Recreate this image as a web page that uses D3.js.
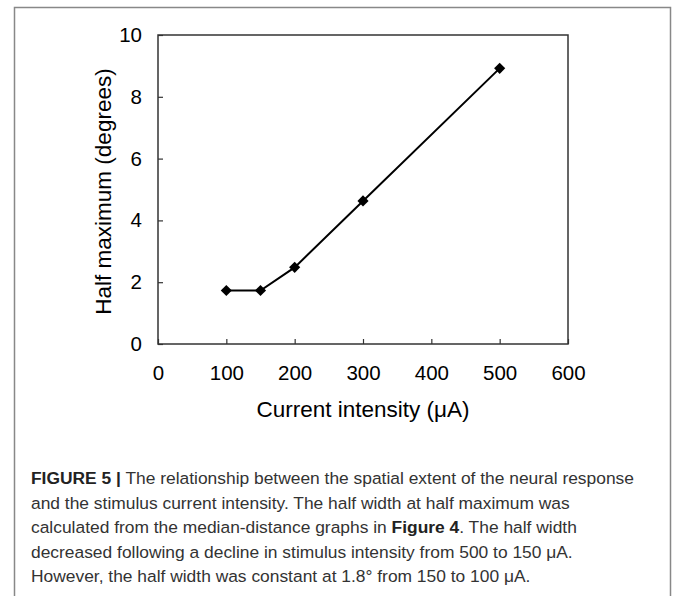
<!DOCTYPE html>
<html>
<head>
<meta charset="utf-8">
<script src="https://cdn.jsdelivr.net/npm/d3@7"></script>
<style>
  html, body { margin: 0; padding: 0; background: #fff; }
  svg text { font-family: "Liberation Sans", Arial, sans-serif; }
  .axis path { display: none; }
  .axis line { stroke: #333; stroke-width: 1.2; }
  .axis text { font-size: 20.5px; fill: #000; }
  .caption { font-size: 17.4px; fill: #333; }
</style>
</head>
<body>
<div id="chart"></div>
<script>
// data
var currents = [100, 150, 200, 300, 500];
var halfMax = [1.73, 1.73, 2.48, 4.63, 8.92];
var xTicks = [0, 100, 200, 300, 400, 500, 600];
var yTicks = [0, 2, 4, 6, 8, 10];
var captionLines = [
  [["FIGURE 5 |", true], [" The relationship between the spatial extent of the neural response", false]],
  [["and the stimulus current intensity. The half width at half maximum was", false]],
  [["calculated from the median-distance graphs in ", false], ["Figure 4", true], [". The half width", false]],
  [["decreased following a decline in stimulus intensity from 500 to 150 \u03bcA.", false]],
  [["However, the half width was constant at 1.8\u00b0 from 150 to 100 \u03bcA.", false]]
];

var W = 673, H = 596;
var margin = {top: 35, right: 105, bottom: 252, left: 158},
    width = W - margin.left - margin.right,
    height = H - margin.top - margin.bottom;

var svg = d3.select("#chart").append("svg")
    .attr("width", W)
    .attr("height", H);

// outer figure frame
svg.append("rect")
    .attr("x", 14.5).attr("y", 7.5)
    .attr("width", 656).attr("height", 600)
    .attr("fill", "none")
    .attr("stroke", "#888")
    .attr("stroke-width", 1.5);

var x = d3.scaleLinear().domain([0, 600]).range([0, width]),
    y = d3.scaleLinear().domain([0, 10]).range([height, 0]);

var g = svg.append("g")
    .attr("transform", "translate(" + margin.left + "," + margin.top + ")");

g.append("g")
    .attr("class", "axis axis--x")
    .attr("transform", "translate(0," + height + ")")
    .call(d3.axisBottom(x).tickValues(xTicks).tickSize(-5).tickPadding(21));

g.append("g")
    .attr("class", "axis axis--y")
    .call(d3.axisLeft(y).tickValues(yTicks).tickSize(-5).tickPadding(16));

// plot frame
g.append("rect")
    .attr("width", width)
    .attr("height", height)
    .attr("fill", "none")
    .attr("stroke", "#333")
    .attr("stroke-width", 1.5);

var points = currents.map(function(c, i) { return {x: c, y: halfMax[i]}; });

g.append("path")
    .datum(points)
    .attr("fill", "none")
    .attr("stroke", "#000")
    .attr("stroke-width", 2)
    .attr("d", d3.line()
      .x(function(d) { return x(d.x); })
      .y(function(d) { return y(d.y); }));

g.selectAll(".marker")
    .data(points)
    .enter().append("path")
      .attr("class", "marker")
      .attr("d", d3.symbol(d3.symbolSquare, 62))
      .attr("fill", "#000")
      .attr("transform", function(d) {
        return "translate(" + x(d.x) + "," + y(d.y) + ") rotate(45)";
      });

g.append("text")
    .attr("x", width / 2)
    .attr("y", height + 73)
    .attr("text-anchor", "middle")
    .attr("font-size", "22.5px")
    .text("Current intensity (\u03bcA)");

g.append("text")
    .attr("transform", "rotate(-90)")
    .attr("x", -height / 2 - 2)
    .attr("y", -47)
    .attr("text-anchor", "middle")
    .attr("font-size", "22.5px")
    .text("Half maximum (degrees)");

var cap = svg.selectAll(".caption")
    .data(captionLines)
    .enter().append("text")
      .attr("class", "caption")
      .attr("x", 31)
      .attr("y", function(d, i) { return 484 + i * 24.5; });

cap.selectAll("tspan")
    .data(function(d) { return d; })
    .enter().append("tspan")
      .attr("font-weight", function(d) { return d[1] ? "bold" : null; })
      .attr("fill", function(d) { return d[1] ? "#222" : null; })
      .text(function(d) { return d[0]; });
</script>
</body>
</html>
